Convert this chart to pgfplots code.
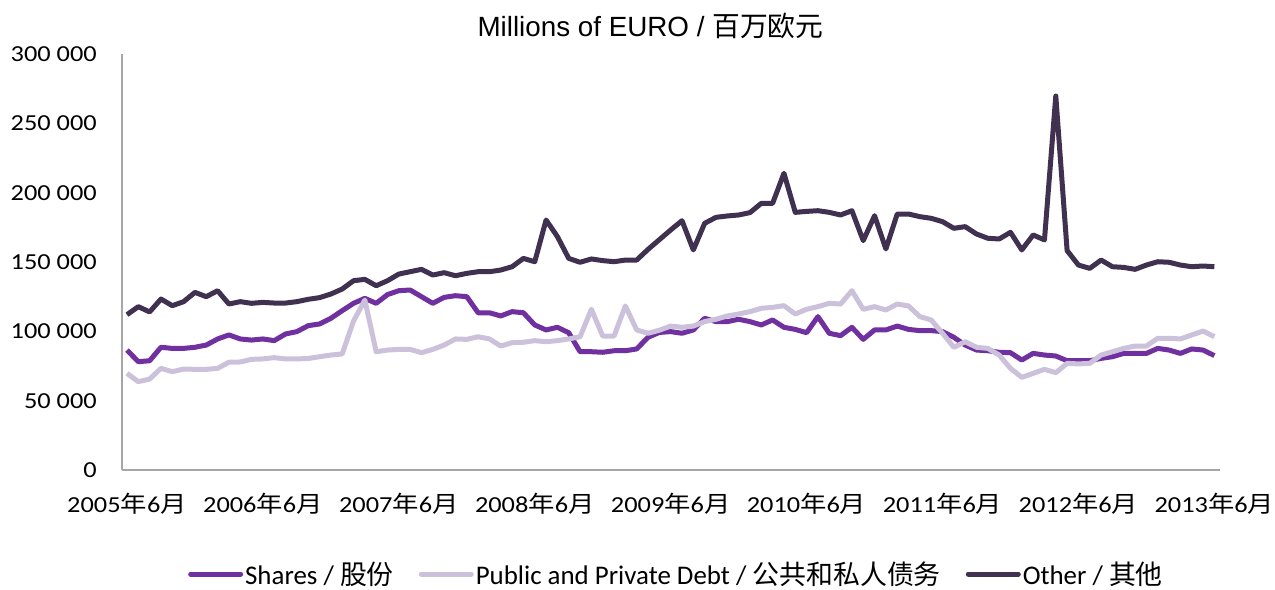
\documentclass[border=0pt]{standalone}
\usepackage{pgfplots}
\pgfplotsset{compat=1.18}
\usepackage{pgfplotstable}
\usepackage{graphicx}
\usepackage{fontspec}
\setmainfont{Carlito}
\newfontfamily\arial{Liberation Sans}
\newfontfamily\cjk{Noto Sans CJK SC}
\newcommand{\hs}[1]{\scalebox{1.15}[1]{#1}}
\newcommand{\xl}[1]{\hs{#1{\cjk 年}6{\cjk 月}}}
\definecolor{cshares}{HTML}{7030A0}
\definecolor{cdebt}{HTML}{CCC1DA}
\definecolor{cother}{HTML}{403151}
\definecolor{caxis}{HTML}{A6A6A6}
\pgfplotstableread{
i shares debt other
0 86.5 69.7 112
1 78.1 63.7 117.8
2 78.8 65.6 114
3 88.5 73.3 123.3
4 87.7 70.9 118.5
5 87.7 72.8 121.4
6 88.5 72.6 128.1
7 90.1 72.6 125
8 94.5 73.3 129.3
9 97.4 77.7 119.7
10 94.5 77.9 121.4
11 93.7 79.8 120.2
12 94.5 80.1 120.9
13 93.3 81 120.4
14 98.1 80.1 120.4
15 99.8 80.1 121.4
16 104.1 80.4 123.1
17 105.3 81.7 124.3
18 109.4 82.9 126.9
19 114.9 83.7 130.5
20 120.2 107.4 136.5
21 123.8 122.6 137.5
22 120.2 85.3 132.9
23 126.5 86.5 136.5
24 129.3 87 141.3
25 129.8 87 143
26 125 84.6 144.7
27 120.2 87 140.6
28 124.5 90.1 142.3
29 125.7 94.5 140.1
30 125 94.2 141.8
31 113.4 96.1 143
32 113.4 94.5 143
33 111.1 89.4 144.2
34 114.2 91.8 146.6
35 113.4 92.1 152.6
36 104.6 93.3 150.2
37 101 92.5 180.3
38 102.9 93.3 168.3
39 99 94.5 152.6
40 85.3 96.1 149.8
41 85.3 115.9 152.2
42 84.9 96.6 151
43 86 96.6 150.2
44 86 118.3 151.4
45 87.3 101 151.4
46 95.7 98.6 159.1
47 99.2 100.8 166.1
48 99.8 103.8 173.1
49 98.6 102.9 179.8
50 101 103.8 158.7
51 109.4 107 177.9
52 107 108.7 182.2
53 107 111.1 183.2
54 108.7 112.5 183.9
55 107 114.2 185.6
56 104.6 116.6 192.3
57 108.2 117.3 192.3
58 102.9 118.5 214
59 101.4 112.5 185.8
60 99 115.9 186.5
61 110.6 117.8 187
62 98.6 120.2 185.8
63 96.9 119.7 183.9
64 102.9 129.3 187
65 94.2 115.9 165.4
66 101 117.8 183.4
67 101 115.4 159.4
68 103.8 119.7 184.6
69 101.4 118.3 184.6
70 100.5 110.6 182.7
71 100.5 108.2 181.5
72 99.8 98.6 179.1
73 95.7 88.5 174.3
74 90.1 92.5 175.5
75 86.5 88.5 170.2
76 86 87.7 167.1
77 84.9 82.9 166.6
78 84.6 73.3 171.4
79 79.3 66.8 158.7
80 84.1 69.7 169.5
81 82.9 72.6 165.9
82 82.2 70.2 269.7
83 78.8 76.9 158.2
84 78.8 76.5 147.8
85 78.8 76.9 145.4
86 80.5 82.9 151.4
87 81.7 85.3 146.6
88 84.1 87.7 146.1
89 84.1 89.4 144.7
90 84.1 89.4 147.8
91 87.7 95 150.2
92 86.5 95 149.8
93 84.1 94.5 147.8
94 87.3 97.4 146.6
95 86.5 100.2 147.1
96 82.5 96.1 146.6
}\data
\begin{document}
\begin{tikzpicture}
\useasboundingbox (-122bp,-120bp) rectangle (1153bp,470bp);
\begin{axis}[
  at={(0,0)}, anchor=south west,
  scale only axis, width=1098bp, height=416bp,
  xmin=-0.44, xmax=96.5, ymin=0, ymax=300,
  axis x line=bottom, axis y line=left,
  axis line style={-, caxis, line width=1.3bp},
  xtick={0,12,24,36,48,60,72,84,96},
  xticklabels={\xl{2005},\xl{2006},\xl{2007},\xl{2008},\xl{2009},\xl{2010},\xl{2011},\xl{2012},\xl{2013}},
  ytick={0,50,100,150,200,250,300},
  yticklabels={\hs{0},\hs{50 000},\hs{100 000},\hs{150 000},\hs{200 000},\hs{250 000},\hs{300 000}},
  major tick length=0pt,
  xticklabel style={font=\fontsize{23}{27}\selectfont, anchor=base, yshift=-42bp, inner sep=0pt},
  yticklabel style={font=\fontsize{23}{27}\selectfont, anchor=east, xshift=-25bp, inner sep=0pt},
  legend style={at={(0.5050,-0.2500)}, anchor=center, draw=none, fill=none,
    font=\fontsize{27}{30}\selectfont, nodes={inner ysep=0.5bp},
    /tikz/every even column/.append style={column sep=23bp}},
  legend columns=3,
  legend cell align=left,
  legend image code/.code={\draw[#1, line width=5bp, line cap=round] (0bp,0bp) -- (50bp,0bp);},
]
\addplot[cshares, line width=5bp, line join=round] table[x=i, y=shares]{\data};
\addlegendentry{Shares / {\cjk 股份}}
\addplot[cdebt, line width=5bp, line join=round] table[x=i, y=debt]{\data};
\addlegendentry{Public and Private Debt / {\cjk 公共和私人债务}}
\addplot[cother, line width=5bp, line join=round] table[x=i, y=other]{\data};
\addlegendentry{Other / {\cjk 其他}}
\end{axis}
\node[anchor=base, font=\arial\fontsize{27.9}{30}\selectfont] at (528.5bp,433bp) {Millions of EURO / {\cjk 百万欧元}};
\end{tikzpicture}
\end{document}
